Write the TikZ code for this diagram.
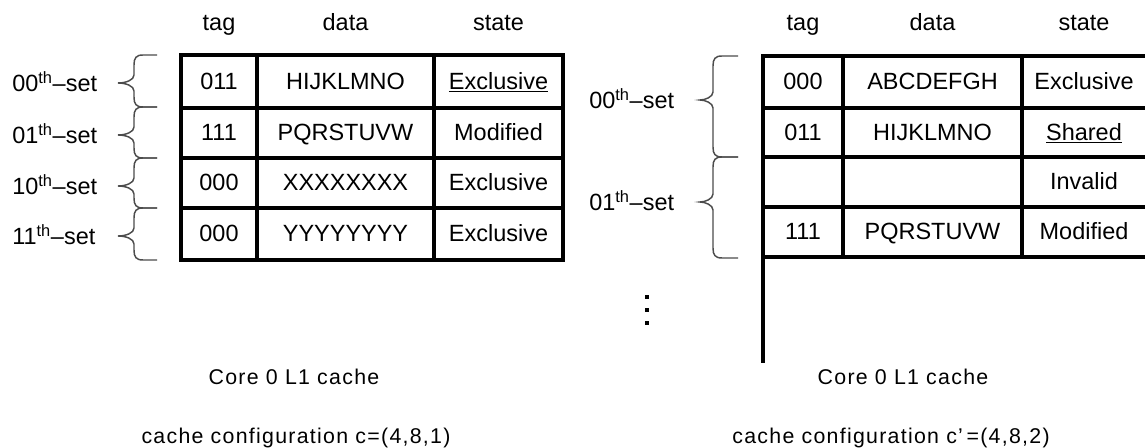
\documentclass[tikz,border=0pt]{standalone}
\usepackage{fontspec}
\setmainfont{Liberation Sans}
\newfontfamily\capfont[LetterSpace=6]{Liberation Sans}
\newcommand\mybrace[6]{% #1 xend, #2 xvert, #3 xtip, #4 ytop, #5 ytip, #6 ybot
  \draw[brc] (#1,#4) -- ({#2+9},#4) .. controls ({#2+2},#4) and (#2,{#4+3}) .. (#2,{#4+10})
    -- (#2,{#5-8}) .. controls (#2,{#5-3}) and ({#2-8},#5) .. (#3,#5)
    .. controls ({#2-8},#5) and (#2,{#5+3}) .. (#2,{#5+8})
    -- (#2,{#6-10}) .. controls (#2,{#6-3}) and ({#2+2},#6) .. ({#2+9},#6) -- (#1,#6);}
\begin{document}
\begin{tikzpicture}[x=0.75pt,y=-0.75pt,
  txt/.style={font=\fontsize{17.6}{20}\selectfont, inner sep=0pt, anchor=base},
  lbl/.style={font=\fontsize{17.6}{20}\selectfont, inner sep=0pt, anchor=base west},
  outer/.style={line width=3.2pt},
  rowline/.style={line width=2.6pt},
  colline/.style={line width=2.3pt},
  brc/.style={line width=1.1pt, draw=black!70},
  captext/.style={font=\capfont\fontsize{16}{20}\selectfont, inner sep=0pt}]
\useasboundingbox (0,0) rectangle (1145,448);
\begin{scope}
\clip (0,0) rectangle (1145,448);
% ---------- left table ----------
\draw[outer] (181,55) rectangle (563,260);
\foreach \yy in {108,158,208} \draw[rowline] (181,\yy) -- (563,\yy);
\foreach \xx in {257,434} \draw[colline] (\xx,55) -- (\xx,260);
\node[txt] (lhtag) at (219,31) {tag};
\node[txt] (lhdata) at (345.5,31) {data};
\node[txt] (lhstate) at (498.5,31) {state};
\node[txt] (l1t) at (219,89.5) {011};
\node[txt] (l1d) at (345.5,89.5) {HIJKLMNO};
\node[txt] (l1s) at (498.5,89.5) {\underline{Exclusive}};
\node[txt] (l2t) at (219,141) {111};
\node[txt] (l2d) at (345.5,141) {PQRSTUVW};
\node[txt] (l2s) at (498.5,141) {Modified};
\node[txt] (l3t) at (219,191) {000};
\node[txt] (l3d) at (345.5,191) {XXXXXXXX};
\node[txt] (l3s) at (498.5,191) {Exclusive};
\node[txt] (l4t) at (219,242) {000};
\node[txt] (l4d) at (345.5,242) {YYYYYYYY};
\node[txt] (l4s) at (498.5,242) {Exclusive};
\node[lbl] (ls1) at (12,92) {00\textsuperscript{th}–set};
\node[lbl] (ls2) at (12,144) {01\textsuperscript{th}–set};
\node[lbl] (ls3) at (12,195) {10\textsuperscript{th}–set};
\node[lbl] (ls4) at (12,245) {11\textsuperscript{th}–set};
\mybrace{157}{134}{118}{55}{83}{107}
\mybrace{157}{134}{118}{107}{135}{158}
\mybrace{157}{134}{118}{158}{186}{208}
\mybrace{157}{134}{118}{208}{236}{260}
% ---------- right table ----------
\draw[outer] (763,363) -- (763,56) -- (1149,56) -- (1149,257);
\foreach \yy in {108,207} \draw[rowline] (763,\yy) -- (1149,\yy);
\foreach \yy in {157,257} \draw[outer] (763,\yy) -- (1149,\yy);
\foreach \xx in {843,1022} \draw[colline] (\xx,56) -- (\xx,257);
\node[txt] (rhtag) at (803,31) {tag};
\node[txt] (rhdata) at (932.5,31) {data};
\node[txt] (rhstate) at (1084,31) {state};
\node[txt] (r1t) at (803,90) {000};
\node[txt] (r1d) at (932.5,90) {ABCDEFGH};
\node[txt] (r1s) at (1084,90) {Exclusive};
\node[txt] (r2t) at (803,140.5) {011};
\node[txt] (r2d) at (932.5,140.5) {HIJKLMNO};
\node[txt] (r2s) at (1084,140.5) {\underline{Shared}};
\node[txt] (r3s) at (1084,190) {Invalid};
\node[txt] (r4t) at (803,240) {111};
\node[txt] (r4d) at (932.5,240) {PQRSTUVW};
\node[txt] (r4s) at (1084,240) {Modified};
\node[lbl] (rs1) at (589,109) {00\textsuperscript{th}–set};
\node[lbl] (rs2) at (589,211) {01\textsuperscript{th}–set};
\mybrace{738}{713}{700}{56}{100}{157}
\mybrace{738}{713}{700}{157}{202}{258}
% dots
\foreach \yy in {297,310,323} \fill (645,{\yy-2}) rectangle (649,{\yy+2});
% captions
\node[captext] (c1) at (294,377) {Core 0 L1 cache};
\node[captext] (c2) at (903,377) {Core 0 L1 cache};
\node[captext] (c3) at (296,438) {cache configuration c=(4,8,1)};
\node[captext] (c4) at (891,438) {cache configuration c’\,=(4,8,2)};
\end{scope}
\end{tikzpicture}
\end{document}
